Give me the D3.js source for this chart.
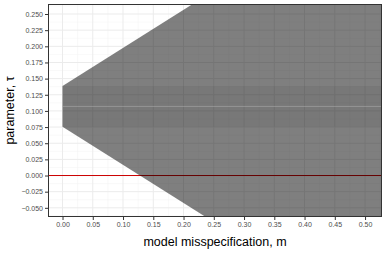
<!DOCTYPE html>
<html lang="en">
<head>
<meta charset="UTF-8">
<title>tau vs misspecification</title>
<script src="https://d3js.org/d3.v7.min.js"></script>
<style>
    body { margin: 0; background: #fff; }
    svg { font-family: "Liberation Sans", Arial, sans-serif; }
</style>
</head>
<body>
<div id="chart"></div>
<script>
// bounds of tau as m grows
var mValues = [0, 0.55];
var upperTau = [0.1385, 0.1385 + 0.59 * 0.55];
var lowerTau = [0.0755, 0.0755 - 0.59 * 0.55];
var tauHat = 0.107;
var xTicks = [0, 0.05, 0.1, 0.15, 0.2, 0.25, 0.3, 0.35, 0.4, 0.45, 0.5];
var yTicks = [-0.05, -0.025, 0, 0.025, 0.05, 0.075, 0.1, 0.125, 0.15, 0.175, 0.2, 0.225, 0.25];

var width = 387, height = 254;
var margin = {left: 48, right: 5, top: 4, bottom: 37};

var svg = d3.select("#chart").append("svg")
    .attr("width", width)
    .attr("height", height);

var x = d3.scaleLinear().domain([-0.024, 0.528]).range([margin.left, width - margin.right]);
var y = d3.scaleLinear().domain([-0.0642, 0.2655]).range([height - margin.bottom, margin.top]);

var defs = svg.append("defs");
defs.append("clipPath").attr("id", "clip")
    .append("rect")
    .attr("x", margin.left).attr("y", margin.top)
    .attr("width", width - margin.left - margin.right)
    .attr("height", height - margin.top - margin.bottom);

var panel = svg.append("g").attr("clip-path", "url(#clip)");

// minor grid
var xMinor = xTicks.map(function(d) { return d + 0.025; }).concat([-0.025]);
var yMinor = yTicks.map(function(d) { return d + 0.0125; }).concat([-0.0625]);
panel.selectAll(".xminor").data(xMinor).enter().append("line")
    .attr("x1", function(d) { return x(d); }).attr("x2", function(d) { return x(d); })
    .attr("y1", margin.top).attr("y2", height - margin.bottom)
    .style("stroke", "#f2f2f2").style("stroke-width", 0.5);
panel.selectAll(".yminor").data(yMinor).enter().append("line")
    .attr("y1", function(d) { return y(d); }).attr("y2", function(d) { return y(d); })
    .attr("x1", margin.left).attr("x2", width - margin.right)
    .style("stroke", "#f2f2f2").style("stroke-width", 0.5);

// major grid
panel.selectAll(".xmajor").data(xTicks).enter().append("line")
    .attr("x1", function(d) { return x(d); }).attr("x2", function(d) { return x(d); })
    .attr("y1", margin.top).attr("y2", height - margin.bottom)
    .style("stroke", "#ebebeb").style("stroke-width", 1);
panel.selectAll(".ymajor").data(yTicks).enter().append("line")
    .attr("y1", function(d) { return y(d); }).attr("y2", function(d) { return y(d); })
    .attr("x1", margin.left).attr("x2", width - margin.right)
    .style("stroke", "#ebebeb").style("stroke-width", 1);

// zero line
panel.append("line")
    .attr("x1", margin.left).attr("x2", width - margin.right)
    .attr("y1", y(0)).attr("y2", y(0))
    .style("stroke", "#cc0000").style("stroke-width", 1);

// identified set
var pts = [[mValues[0], upperTau[0]], [mValues[1], upperTau[1]],
           [mValues[1], lowerTau[1]], [mValues[0], lowerTau[0]]];
panel.append("path")
    .attr("d", d3.line().x(function(d) { return x(d[0]); }).y(function(d) { return y(d[1]); })(pts) + "Z")
    .style("fill", "#000").style("fill-opacity", 0.5);

// band at m = 0 width
panel.append("rect")
    .attr("x", x(0)).attr("width", x(mValues[1]) - x(0))
    .attr("y", y(upperTau[0])).attr("height", y(lowerTau[0]) - y(upperTau[0]))
    .style("fill", "#000").style("fill-opacity", 0.05);

// point estimate
panel.append("line")
    .attr("x1", x(0)).attr("x2", x(mValues[1]))
    .attr("y1", y(tauHat)).attr("y2", y(tauHat))
    .style("stroke", "#b4b4b4").style("stroke-opacity", 0.5).style("stroke-width", 1);

// panel border
svg.append("rect")
    .attr("x", margin.left + 0.5).attr("y", margin.top + 0.5)
    .attr("width", width - margin.left - margin.right - 1)
    .attr("height", height - margin.top - margin.bottom - 1)
    .style("fill", "none").style("stroke", "#333").style("stroke-width", 1);

function fmtY(d) {
    var s = Math.abs(d).toFixed(3);
    return (d < -1e-9 ? "\u2212" : "") + s;
}

// axes
var xAxis = svg.append("g")
    .attr("transform", "translate(0," + (height - margin.bottom) + ")")
    .call(d3.axisBottom(x).tickValues(xTicks).tickSize(3).tickPadding(2)
        .tickFormat(function(d) { return d.toFixed(2); }));
var yAxis = svg.append("g")
    .attr("transform", "translate(" + margin.left + ",0)")
    .call(d3.axisLeft(y).tickValues(yTicks).tickSize(3).tickPadding(2).tickFormat(fmtY));

[xAxis, yAxis].forEach(function(a) {
    a.select(".domain").remove();
    a.selectAll(".tick line").style("stroke", "#333");
    a.selectAll(".tick text").style("fill", "#4d4d4d").style("font-size", "7px")
        .style("font-family", "'Liberation Sans', Arial, sans-serif");
});

svg.append("text")
    .attr("x", (margin.left + width - margin.right) / 2)
    .attr("y", 246)
    .attr("text-anchor", "middle")
    .style("font-size", "12.5px")
    .text("model misspecification, m");

svg.append("text")
    .attr("transform", "translate(14," + ((margin.top + height - margin.bottom) / 2) + ") rotate(-90)")
    .attr("text-anchor", "middle")
    .style("font-size", "12.5px")
    .text("parameter, \u03c4");
</script>
</body>
</html>
